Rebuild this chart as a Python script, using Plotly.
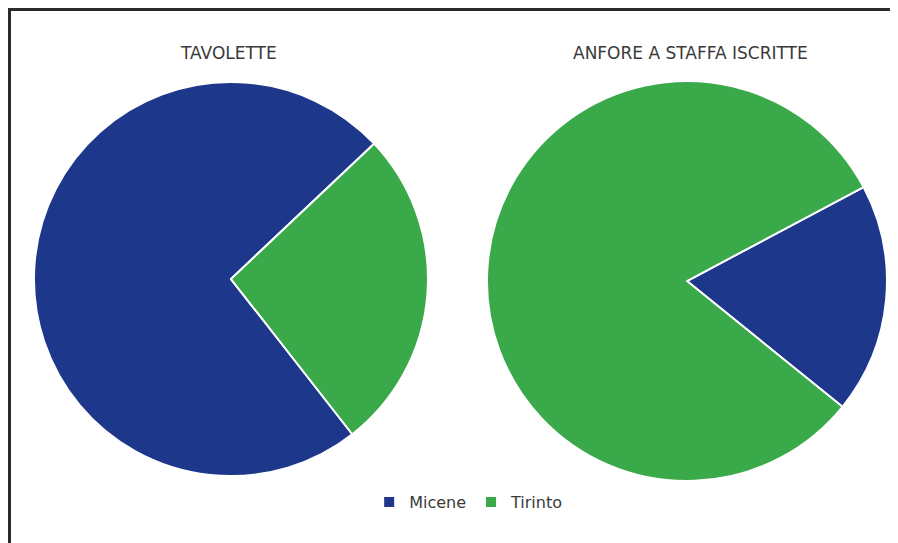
import plotly.graph_objects as go

# data
labels = ['Micene', 'Tirinto']
tavolette = [73.5, 26.5]
anfore = [18.6, 81.4]
titles = ['TAVOLETTE', 'ANFORE A STAFFA ISCRITTE']

colors = ['#1d378b', '#3aa94a']

# the page puts the figure 8px in from the top-left corner, so positions
# below are measured in figure pixels (reference minus 8)
W, H = 898, 543

fig = go.Figure()
fig.add_trace(go.Pie(labels=labels, values=tavolette, sort=False,
                     direction='counterclockwise', rotation=142,
                     marker=dict(colors=colors, line=dict(color='white', width=2)),
                     textinfo='none', hoverinfo='label+percent',
                     domain=dict(x=[0.0289, 0.4677], y=[0.1381, 0.8637])))
fig.add_trace(go.Pie(labels=labels, values=anfore, sort=False,
                     direction='counterclockwise', rotation=62,
                     marker=dict(colors=colors, line=dict(color='white', width=2)),
                     textinfo='none', hoverinfo='label+percent', showlegend=False,
                     domain=dict(x=[0.5334, 0.9788], y=[0.1289, 0.8655])))

# panel titles
for txt, xc in zip(titles, [220 / W, 682 / W]):
    fig.add_annotation(text=txt, x=xc, y=1 - 45 / H, xref='paper', yref='paper',
                       showarrow=False, xanchor='center', yanchor='middle',
                       font=dict(size=17, color='#3a3a3a', family='DejaVu Sans'))

# frame (left and top edges only visible)
fig.add_shape(type='line', xref='paper', yref='paper',
              x0=1.5 / W, x1=1.5 / W, y0=-0.05, y1=1 - 1.5 / H,
              line=dict(color='#2a2a2a', width=3))
fig.add_shape(type='line', xref='paper', yref='paper',
              x0=0, x1=1.05, y0=1 - 1.5 / H, y1=1 - 1.5 / H,
              line=dict(color='#2a2a2a', width=3))

fig.update_layout(width=W, height=H,
                  margin=dict(l=0, r=0, t=0, b=0),
                  paper_bgcolor='white', plot_bgcolor='white',
                  font=dict(family='DejaVu Sans', color='#333333'),
                  legend=dict(orientation='h', x=0.513, xanchor='center',
                              y=1 - 494 / H, yanchor='middle',
                              font=dict(size=16, color='#3a3a3a'),
                              itemwidth=30))

fig.write_html("out.html")
